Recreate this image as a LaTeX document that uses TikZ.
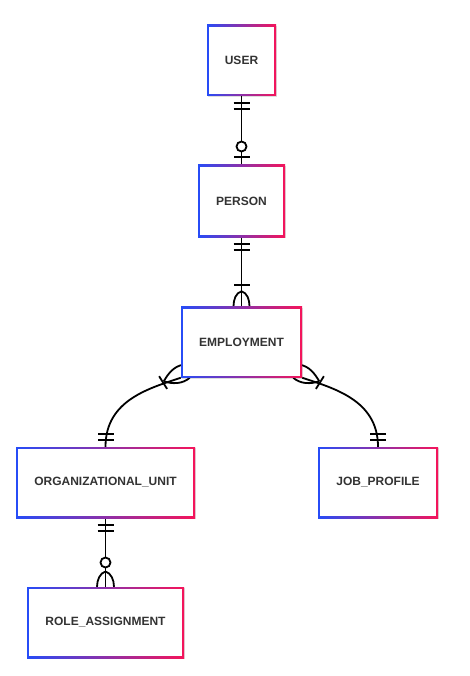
\documentclass[tikz,border=0pt]{standalone}
\usepackage{fontspec}
\setmainfont{Liberation Sans}
\usetikzlibrary{calc,shadows}
\definecolor{gblue}{RGB}{38,76,247}
\definecolor{gpink}{RGB}{245,20,90}
\definecolor{txt}{RGB}{51,51,51}
\pgfdeclarelayer{bgzero}
\pgfdeclarelayer{conn}
\pgfsetlayers{bgzero,conn,main}
\tikzset{
  entity/.style={rectangle, inner sep=0pt, minimum height=71pt,
    left color=gblue, right color=gpink,
    drop shadow={shadow xshift=1.2pt, shadow yshift=-1.2pt, opacity=0.13, fill=black},
    path picture={\fill[white] ([xshift=2pt,yshift=-2pt]path picture bounding box.north west)
      rectangle ([xshift=-2pt,yshift=2pt]path picture bounding box.south east);},
    text=txt, font=\bfseries\fontsize{12}{14}\selectfont},
  rel/.style={line width=1.8pt, black},
  onebar/.pic={\draw[rel] (-8,7)--(8,7) (-8,12.5)--(8,12.5);},
  zeroone/.pic={\draw[rel] (-8,8)--(8,8); \draw[rel, fill=white] (0,18.3) circle (5pt);},
  onemany/.pic={\draw[rel] (-8,21)--(8,21);
    \draw[rel] (0,15) .. controls (5.5,13.5) and (8,7) .. (8,0);
    \draw[rel] (0,15) .. controls (-5.5,13.5) and (-8,7) .. (-8,0);},
  zeromany/.pic={\draw[rel, fill=white] (0,24.3) circle (5pt);
    \draw[rel] (0,15.3) .. controls (5.5,13.8) and (8.5,7) .. (8.5,0);
    \draw[rel] (0,15.3) .. controls (-5.5,13.8) and (-8.5,7) .. (-8.5,0);},
  diagfoot/.pic={\draw[rel] (-21.7,-1.5) -- (-13.7,11.2);
    \draw[rel] (-17,3.5) .. controls (-12,-5) and (-7,-11) .. (2,-13);
    \draw[rel] (-17,3.5) .. controls (-9,6.5) and (2,6.5) .. (9,0);}
}
\begin{document}
\begin{tikzpicture}[x=1pt,y=-1pt]
\begin{pgfonlayer}{bgzero}
\fill[white] (0,0) rectangle (469,676);
\end{pgfonlayer}
\path[use as bounding box] (0,0) rectangle (469,676);

\node[entity, minimum width=69pt] (user) at (241.5,60.5) {USER};
\node[entity, minimum width=87pt, minimum height=72pt] (person) at (241.5,201) {PERSON};
\node[entity, minimum width=121pt] (emp) at (241.5,342) {EMPLOYMENT};
\node[entity, minimum width=179pt] (org) at (105.5,482.5) {ORGANIZATIONAL\_UNIT};
\node[entity, minimum width=120pt] (job) at (378,482.5) {JOB\_PROFILE};
\node[entity, minimum width=157pt] (role) at (105.5,622.5) {ROLE\_ASSIGNMENT};

\begin{pgfonlayer}{conn}
% USER - PERSON
\draw[rel] (user.south) -- (person.north);
\pic at (user.south) {onebar};
\pic[rotate=180] at (person.north) {zeroone};
% PERSON - EMPLOYMENT
\draw[rel] (person.south) -- (emp.north);
\pic at (person.south) {onebar};
\pic[rotate=180] at (emp.north) {onemany};
% EMPLOYMENT - ORG
\draw[rel] (emp.south west) .. controls ($(emp.south west)+(-31,10.5)$) and ($(org.north)+(0,-47)$) .. (org.north);
\pic at (emp.south west) {diagfoot};
\pic[rotate=180] at (org.north) {onebar};
% EMPLOYMENT - JOB
\draw[rel] (emp.south east) .. controls ($(emp.south east)+(31,10.5)$) and ($(job.north)+(0,-47)$) .. (job.north);
\pic[xscale=-1] at (emp.south east) {diagfoot};
\pic[rotate=180] at (job.north) {onebar};
% ORG - ROLE
\draw[rel] (org.south) -- (role.north);
\pic at (org.south) {onebar};
\pic[rotate=180] at (role.north) {zeromany};
\end{pgfonlayer}
\end{tikzpicture}
\end{document}
